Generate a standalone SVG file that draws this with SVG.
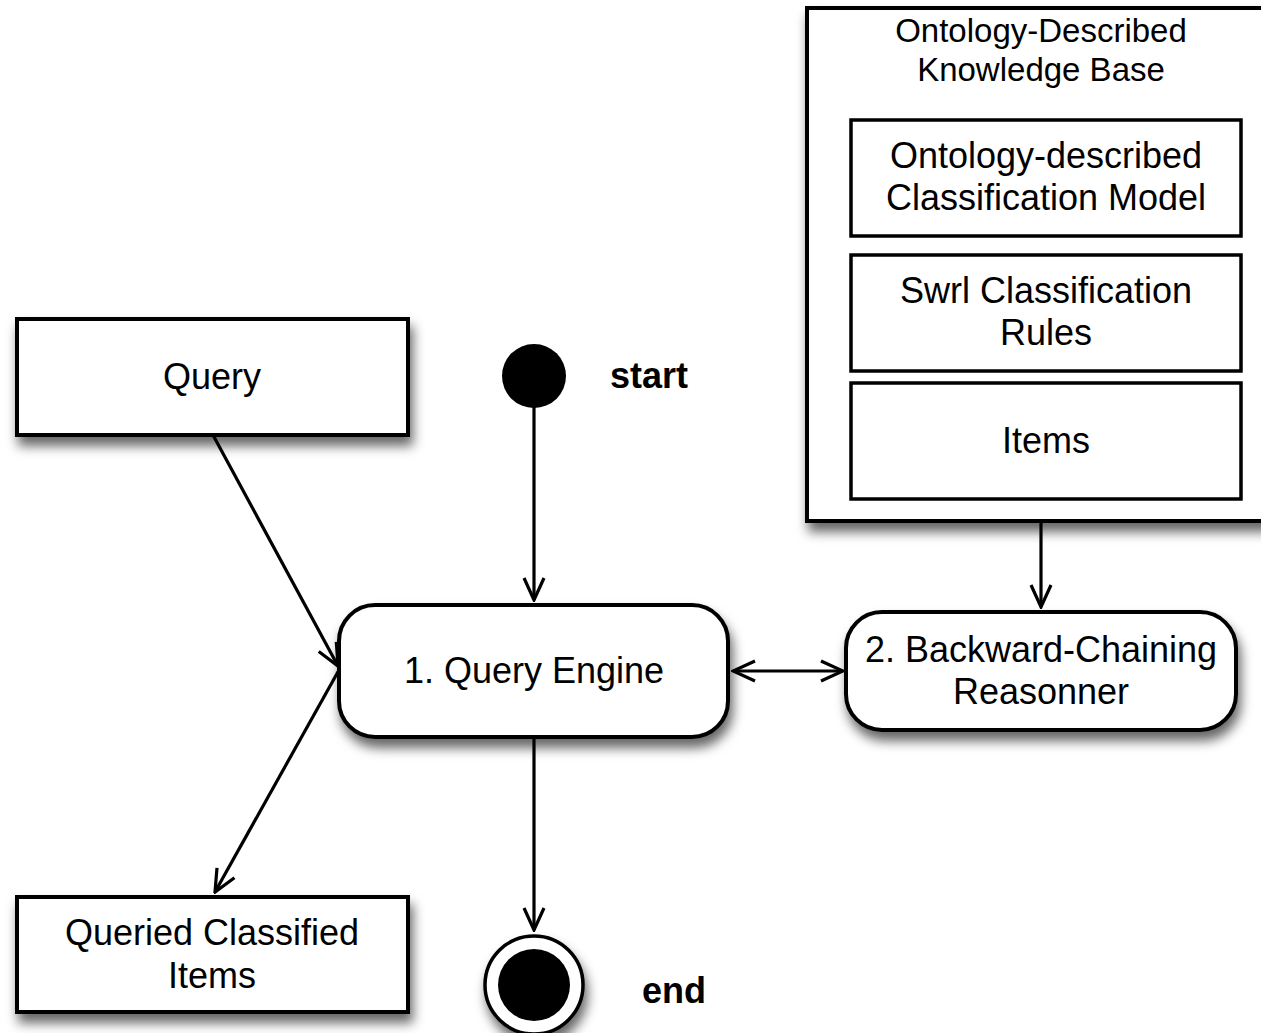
<svg xmlns="http://www.w3.org/2000/svg" width="1261" height="1033" viewBox="0 0 1261 1033">
<style>
text{font-family:"Liberation Sans",Arial,sans-serif;font-size:36px;fill:#000;text-anchor:middle}
.b{font-weight:bold;text-anchor:start}
.box{fill:#fff;stroke:#000;stroke-width:4}
.in{fill:#fff;stroke:#000;stroke-width:3.5}
.c{stroke:#000;stroke-width:3.2;fill:none}
</style>
<defs>
<filter id="sh" x="-20%" y="-20%" width="140%" height="150%">
<feDropShadow dx="3" dy="9" stdDeviation="6" flood-color="#000" flood-opacity="0.6"/>
</filter>
<marker id="ah" viewBox="0 0 26 24" refX="24" refY="12" markerWidth="26" markerHeight="24" markerUnits="userSpaceOnUse" orient="auto-start-reverse">
<polyline points="2,2 24,12 2,22" fill="none" stroke="#000" stroke-width="3.2"/>
</marker>
</defs>
<g id="connectors">
<line class="c" x1="534" y1="405" x2="534" y2="600" marker-end="url(#ah)"/>
<line class="c" x1="534" y1="737" x2="534" y2="930" marker-end="url(#ah)"/>
<line class="c" x1="213" y1="435" x2="338" y2="666" marker-end="url(#ah)"/>
<line class="c" x1="339" y1="670" x2="215" y2="892" marker-end="url(#ah)"/>
<line class="c" x1="1041" y1="521" x2="1041" y2="607" marker-end="url(#ah)"/>
<line class="c" x1="733" y1="671" x2="843" y2="671" marker-start="url(#ah)" marker-end="url(#ah)"/>
</g>
<g id="kb">
<rect class="box" x="807" y="8" width="460" height="513" filter="url(#sh)"/>
<text x="1041" y="42" style="font-size:33px">Ontology-Described</text>
<text x="1041" y="81" style="font-size:33px">Knowledge Base</text>
</g>
<g id="model">
<rect class="in" x="851" y="120" width="390" height="116"/>
<text x="1046" y="168">Ontology-described</text>
<text x="1046" y="210">Classification Model</text>
</g>
<g id="swrl">
<rect class="in" x="851" y="255" width="390" height="116"/>
<text x="1046" y="303">Swrl Classification</text>
<text x="1046" y="345">Rules</text>
</g>
<g id="items">
<rect class="in" x="851" y="383" width="390" height="116"/>
<text x="1046" y="453">Items</text>
</g>
<g id="query">
<rect class="box" x="17" y="319" width="391" height="116" filter="url(#sh)"/>
<text x="212" y="389">Query</text>
</g>
<g id="queried">
<rect class="box" x="17" y="897" width="391" height="115" filter="url(#sh)"/>
<text x="212" y="945">Queried Classified</text>
<text x="212" y="988">Items</text>
</g>
<g id="engine">
<rect class="box" x="339" y="605" width="389" height="132" rx="36" ry="36" filter="url(#sh)"/>
<text x="534" y="683">1. Query Engine</text>
</g>
<g id="reasoner">
<rect class="box" x="846" y="612" width="390" height="118" rx="36" ry="36" filter="url(#sh)"/>
<text x="1041" y="662">2. Backward-Chaining</text>
<text x="1041" y="704">Reasonner</text>
</g>
<g id="start">
<circle cx="534" cy="376" r="32" fill="#000"/>
<text class="b" x="610" y="388">start</text>
</g>
<g id="end">
<circle cx="534" cy="985" r="49" fill="#fff" stroke="#000" stroke-width="3.5" filter="url(#sh)"/>
<circle cx="534" cy="985" r="36" fill="#000"/>
<text class="b" x="642" y="1003">end</text>
</g>
</svg>
